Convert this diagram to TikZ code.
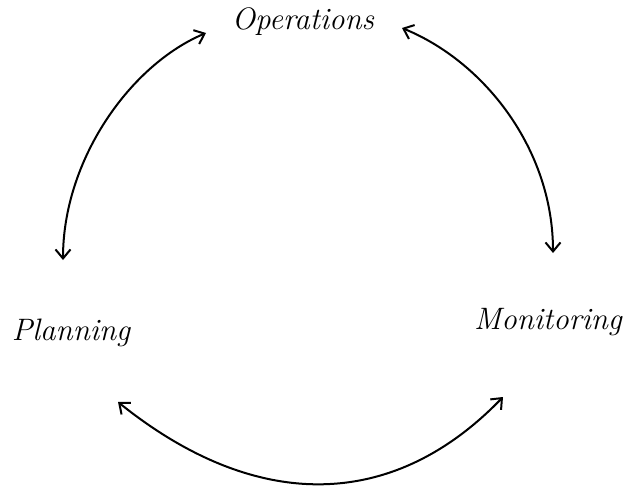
\documentclass[tikz,border=0pt]{standalone}
\usetikzlibrary{arrows.meta}
\begin{document}
\begin{tikzpicture}[x=1pt,y=-1pt,
  label/.style={font=\fontsize{31}{36}\selectfont\itshape, inner sep=0pt},
  conn/.style={line width=2pt, {Straight Barb[length=9pt,width=15pt]}-{Straight Barb[length=9pt,width=15pt]}}]
\useasboundingbox[fill=white] (0,0) rectangle (624,495);
\node[label] (ops) at (303,22) {Operations};
\node[label] (plan) at (71,333) {Planning};
\node[label] (mon) at (548,322) {Monitoring};
\coordinate (a1) at (206,33);
\coordinate (a2) at (63,260);
\coordinate (b1) at (402,28);
\coordinate (b2) at (553,253);
\coordinate (c1) at (118,402);
\coordinate (c2) at (503,397);
\draw[conn] (a1) .. controls (130,65) and (63,160) .. (a2);
\draw[conn] (b1) .. controls (485,62) and (553,150) .. (b2);
\draw[conn] (c1) .. controls (255,512) and (392,512) .. (c2);
\end{tikzpicture}
\end{document}
